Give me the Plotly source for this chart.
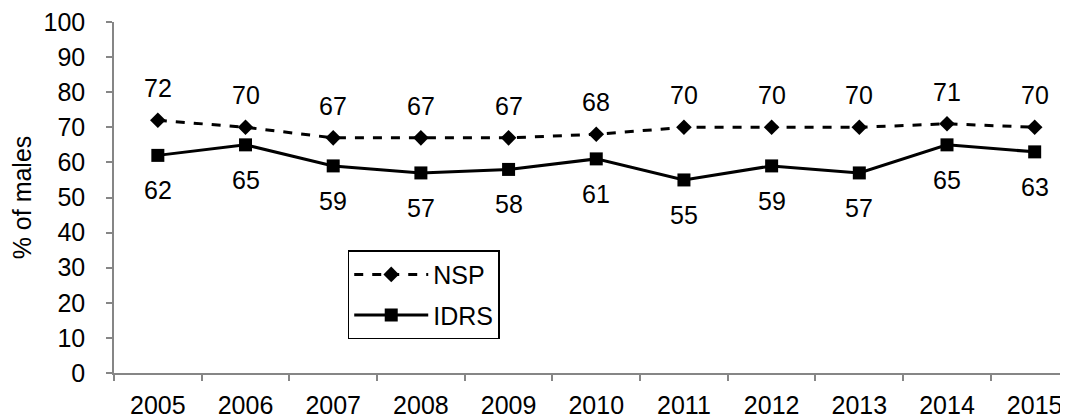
import plotly.graph_objects as go

# -----------------------------
# Data
# -----------------------------
years = ["2005", "2006", "2007", "2008", "2009", "2010",
         "2011", "2012", "2013", "2014", "2015"]
nsp = [72, 70, 67, 67, 67, 68, 70, 70, 70, 71, 70]
idrs = [62, 65, 59, 57, 58, 61, 55, 59, 57, 65, 63]
y_ticks = list(range(0, 101, 10))

FONT = "Liberation Sans, Arial, sans-serif"
AXIS_GREY = "#868686"
FS = 25

fig = go.Figure()

fig.add_trace(go.Scatter(
    x=years, y=nsp, name="NSP", mode="lines+markers", legendgroup="nsp",
    line=dict(color="black", width=3, dash="dash"),
    marker=dict(symbol="diamond", size=12, color="black"),
))
fig.add_trace(go.Scatter(
    x=years, y=idrs, name="IDRS", mode="lines+markers", legendgroup="idrs",
    line=dict(color="black", width=3),
    marker=dict(symbol="square", size=13, color="black"),
))

# data labels: NSP above, IDRS below (category index on x)
for i, yv in enumerate(nsp):
    fig.add_annotation(x=i, y=yv, xref="x", yref="y", text=str(yv),
                       showarrow=False, yshift=32,
                       font=dict(size=FS, color="black", family=FONT))
for i, yv in enumerate(idrs):
    fig.add_annotation(x=i, y=yv, xref="x", yref="y", text=str(yv),
                       showarrow=False, yshift=-35,
                       font=dict(size=FS, color="black", family=FONT))

# page body has an 8px margin, so the figure is 8px smaller than the window
fig.update_layout(
    width=1060, height=411,
    margin=dict(l=106, r=0, t=13, b=40),
    plot_bgcolor="white", paper_bgcolor="white",
    font=dict(family=FONT, size=FS, color="black"),
    showlegend=True,
    legend=dict(
        x=0.245, y=0.35, xanchor="left", yanchor="top",
        bordercolor="black", borderwidth=1.5,
        bgcolor="white", itemwidth=74,
        font=dict(size=FS, family=FONT),
        tracegroupgap=5,
    ),
    xaxis=dict(
        type="category",
        range=[-0.5, 10.38],
        tickson="boundaries",
        ticks="outside", ticklen=6, tickcolor=AXIS_GREY, tickwidth=1.5,
        showline=True, linecolor=AXIS_GREY, linewidth=1.5,
        showgrid=False, zeroline=False,
        ticklabelstandoff=9,
        ticklabeloverflow="allow",
        tickfont=dict(size=FS),
    ),
    yaxis=dict(
        range=[0, 100],
        tickvals=y_ticks,
        ticks="outside", ticklen=6, tickcolor=AXIS_GREY, tickwidth=1.5,
        showline=True, linecolor=AXIS_GREY, linewidth=1.5,
        showgrid=False, zeroline=False,
        ticklabelstandoff=16,
        ticklabeloverflow="allow",
        tickfont=dict(size=FS),
        title=dict(text="% of males", font=dict(size=FS), standoff=13),
    ),
)

fig.write_html("out.html")
